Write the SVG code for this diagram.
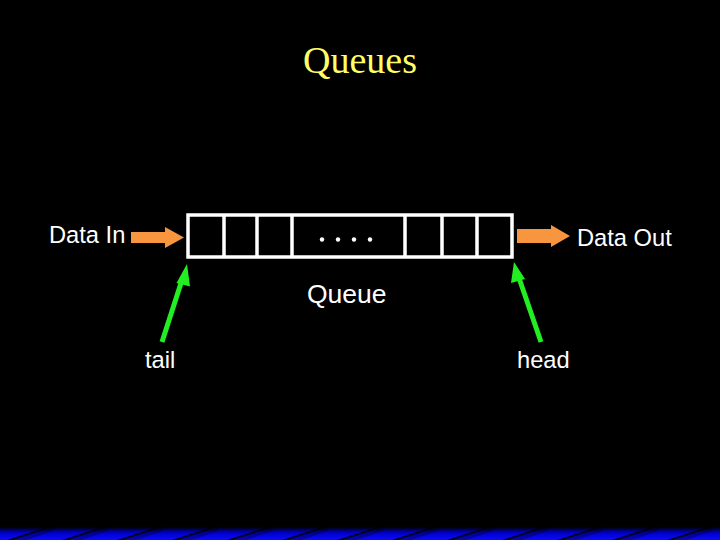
<svg xmlns="http://www.w3.org/2000/svg" width="720" height="540" viewBox="0 0 720 540">
<defs>
<style>
.lbl{font-family:"Liberation Sans",Arial,sans-serif;font-size:23.7px;fill:#fff}
.cell{fill:none;stroke:#fff;stroke-width:3.5}
.orange{fill:#F7963E}
.green{stroke:#22EE22;stroke-width:5;fill:none}
.gh{fill:#22EE22}
</style>
<linearGradient id="band" x1="0" y1="527" x2="0" y2="540" gradientUnits="userSpaceOnUse">
<stop offset="0" stop-color="#000"/>
<stop offset="0.45" stop-color="#0000c8"/>
<stop offset="1" stop-color="#0a0aff"/>
</linearGradient>
<pattern id="stripes" x="13" y="527" width="55" height="13" patternUnits="userSpaceOnUse">
<polygon points="-6,13 0,13 40,0 34,0" fill="#000" opacity="0.85"/>
<polygon points="49,13 55,13 95,0 89,0" fill="#000" opacity="0.85"/>
<polygon points="0,13 14,13 40,4 40,0" fill="#000" opacity="0.3"/>
</pattern>
</defs>
<rect width="720" height="540" fill="#000"/>
<rect x="0" y="527" width="720" height="13" fill="url(#band)"/>
<rect x="0" y="527" width="720" height="13" fill="url(#stripes)"/>
<text x="360" y="73" text-anchor="middle" font-family="'Liberation Serif','Times New Roman',serif" font-size="38" fill="#FFFF66">Queues</text>
<g id="queue">
<rect class="cell" x="188" y="215" width="324" height="42"/>
<line class="cell" x1="224" y1="215" x2="224" y2="257"/>
<line class="cell" x1="257" y1="215" x2="257" y2="257"/>
<line class="cell" x1="292" y1="215" x2="292" y2="257"/>
<line class="cell" x1="405" y1="215" x2="405" y2="257"/>
<line class="cell" x1="442" y1="215" x2="442" y2="257"/>
<line class="cell" x1="477" y1="215" x2="477" y2="257"/>
<g fill="#fff">
<circle cx="322" cy="239.5" r="2.2"/>
<circle cx="338" cy="239.5" r="2.2"/>
<circle cx="354" cy="239.5" r="2.2"/>
<circle cx="370" cy="239.5" r="2.2"/>
</g>
<text class="lbl" x="307" y="303" style="font-size:26.5px">Queue</text>
</g>
<g id="data-in">
<text class="lbl" x="49" y="243">Data In</text>
</g>
<g id="data-out">
<text class="lbl" x="577" y="246">Data Out</text>
</g>
<g id="tail">
<text class="lbl" x="145" y="368">tail</text>
</g>
<g id="head">
<text class="lbl" x="517" y="368">head</text>
</g>
<g id="connectors">
<polygon class="orange" points="131,232 165,232 165,227 184,237.5 165,248 165,243 131,243"/>
<polygon class="orange" points="517,229 551,229 551,225 570,236 551,247 551,243 517,243"/>
<line class="green" x1="162" y1="342" x2="182" y2="280"/>
<polygon class="gh" points="187,264 176.5,283 190,286.5"/>
<line class="green" x1="541" y1="342" x2="519" y2="278"/>
<polygon class="gh" points="514,262 511,283 525,279"/>
</g>
</svg>
